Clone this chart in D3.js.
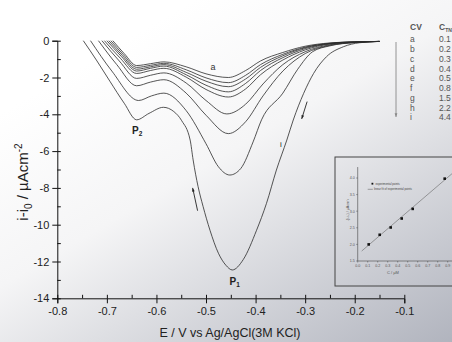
<!DOCTYPE html>
<html>
<head>
<meta charset="utf-8">
<script src="https://cdn.jsdelivr.net/npm/d3@7"></script>
<style>
  html, body { margin: 0; padding: 0; overflow: hidden; background: #fff; }
  svg { display: block; }
  text { font-family: "Liberation Sans", Arial, sans-serif; }
</style>
</head>
<body>
<svg id="chart" width="452" height="342"></svg>
<script>
// CV curves a..i : [E (V), i-i0 (uA/cm2)]
const cvLabels = ['a', 'b', 'c', 'd', 'e', 'f', 'g', 'h', 'i'];
const concLabels = ['0.1', '0.2', '0.3', '0.4', '0.5', '0.8', '1.5', '2.2', '4.4'];

const cvA = [[-0.688,0],[-0.665,-0.7],[-0.64,-1.35],[-0.612,-1.25],[-0.585,-1.15],[-0.54,-1.42],[-0.5,-1.8],[-0.455,-2.0],[-0.42,-1.62],[-0.39,-1.1],[-0.345,-0.64],[-0.3,-0.3],[-0.25,-0.12],[-0.2,-0.06],[-0.15,-0.04]];
const cvB = [[-0.692,0],[-0.667,-0.75],[-0.64,-1.45],[-0.612,-1.34],[-0.585,-1.23],[-0.54,-1.58],[-0.5,-2.02],[-0.455,-2.28],[-0.42,-1.88],[-0.39,-1.3],[-0.345,-0.74],[-0.3,-0.35],[-0.25,-0.14],[-0.2,-0.06],[-0.15,-0.04]];
const cvC = [[-0.696,0],[-0.669,-0.8],[-0.64,-1.55],[-0.612,-1.42],[-0.585,-1.3],[-0.54,-1.72],[-0.5,-2.2],[-0.455,-2.5],[-0.42,-2.08],[-0.39,-1.45],[-0.345,-0.82],[-0.3,-0.38],[-0.25,-0.15],[-0.2,-0.07],[-0.15,-0.04]];
const cvD = [[-0.7,0],[-0.671,-0.85],[-0.64,-1.65],[-0.612,-1.5],[-0.585,-1.38],[-0.54,-1.85],[-0.5,-2.42],[-0.455,-2.78],[-0.42,-2.32],[-0.39,-1.62],[-0.345,-0.92],[-0.3,-0.43],[-0.25,-0.16],[-0.2,-0.07],[-0.15,-0.04]];
const cvE = [[-0.705,0],[-0.673,-0.95],[-0.64,-1.78],[-0.612,-1.62],[-0.585,-1.5],[-0.54,-1.98],[-0.5,-2.65],[-0.455,-3.06],[-0.42,-2.62],[-0.39,-1.85],[-0.345,-1.05],[-0.3,-0.5],[-0.25,-0.18],[-0.2,-0.08],[-0.15,-0.04]];
const cvF = [[-0.71,0],[-0.675,-1.1],[-0.64,-2.05],[-0.612,-1.88],[-0.585,-1.75],[-0.54,-2.3],[-0.5,-3.25],[-0.458,-3.98],[-0.42,-3.45],[-0.385,-2.35],[-0.345,-1.3],[-0.3,-0.6],[-0.25,-0.22],[-0.2,-0.09],[-0.15,-0.04]];
const cvG = [[-0.717,0],[-0.68,-1.3],[-0.64,-2.45],[-0.612,-2.25],[-0.585,-2.12],[-0.54,-2.85],[-0.5,-4.05],[-0.455,-5.05],[-0.42,-4.4],[-0.385,-3.0],[-0.345,-1.65],[-0.3,-0.7],[-0.25,-0.25],[-0.2,-0.1],[-0.15,-0.04]];
const cvH = [[-0.733,0],[-0.69,-1.65],[-0.636,-3.25],[-0.61,-3.0],[-0.585,-2.85],[-0.54,-3.8],[-0.5,-5.6],[-0.475,-6.85],[-0.452,-7.3],[-0.43,-6.95],[-0.405,-5.5],[-0.388,-4.3],[-0.345,-2.85],[-0.315,-1.55],[-0.285,-0.6],[-0.25,-0.28],[-0.2,-0.1],[-0.15,-0.04]];
const cvI = [[-0.7475,0],[-0.72,-1.1],[-0.694,-2.2],[-0.665,-3.4],[-0.64,-4.3],[-0.615,-3.95],[-0.586,-3.62],[-0.565,-3.85],[-0.549,-4.35],[-0.532,-5.4],[-0.526,-6.48],[-0.516,-7.93],[-0.506,-9.0],[-0.492,-10.3],[-0.475,-11.55],[-0.46,-12.2],[-0.447,-12.46],[-0.425,-11.9],[-0.398,-10.3],[-0.378,-8.84],[-0.358,-7.03],[-0.337,-5.4],[-0.324,-4.31],[-0.303,-2.86],[-0.283,-1.78],[-0.257,-0.87],[-0.223,-0.33],[-0.19,-0.11],[-0.15,-0.04]];
const cvCurves = [cvA, cvB, cvC, cvD, cvE, cvF, cvG, cvH, cvI];

const xTicks = [-0.8, -0.7, -0.6, -0.5, -0.4, -0.3, -0.2, -0.1];
const xMinor = [-0.8, -0.75, -0.7, -0.65, -0.6, -0.55, -0.5, -0.45, -0.4, -0.35, -0.3, -0.25, -0.2, -0.15, -0.1];
const yTicks = [0, -2, -4, -6, -8, -10, -12, -14];
const yMinor = [0, -1, -2, -3, -4, -5, -6, -7, -8, -9, -10, -11, -12, -13, -14];

// inset: peak current vs concentration
const insetC = [0.11, 0.22, 0.33, 0.44, 0.55, 0.87];
const insetPeak = [2.0, 2.29, 2.51, 2.78, 3.07, 3.98];
const insetFit = [[0.04, 1.8], [0.943, 4.13]];
const insetXTicks = [0, 0.1, 0.2, 0.3, 0.4, 0.5, 0.6, 0.7, 0.8, 0.9];
const insetYTicks = [1.5, 2.0, 2.5, 3.0, 3.5, 4.0];

const svg = d3.select('#chart');

// faded scan-like background
const grad = svg.append('defs').append('linearGradient')
  .attr('id', 'bg').attr('x1', 0.3).attr('y1', 0.1).attr('x2', 1).attr('y2', 1);
grad.append('stop').attr('offset', 0).attr('stop-color', '#ffffff');
grad.append('stop').attr('offset', 0.35).attr('stop-color', '#f5f5f6');
grad.append('stop').attr('offset', 1).attr('stop-color', '#b1b4be');
svg.append('rect').attr('width', 452).attr('height', 342).attr('fill', 'url(#bg)');

const x = d3.scaleLinear().domain([-0.8, -0.1]).range([57.3, 404.3]);
const y = d3.scaleLinear().domain([0, -14]).range([40.7, 298.3]);

// x axis
const gx = svg.append('g').attr('transform', `translate(0,${y(-14)})`)
  .call(d3.axisBottom(x).tickValues(xTicks).tickSize(5).tickPadding(4)
    .tickFormat(d => d.toFixed(1)));
svg.append('g').attr('transform', `translate(0,${y(-14)})`)
  .call(d3.axisTop(x).tickValues(xMinor).tickSize(3.5).tickFormat(''))
  .select('.domain').remove();

// y axis
const gy = svg.append('g').attr('transform', `translate(${x(-0.8)},0)`)
  .call(d3.axisLeft(y).tickValues(yTicks).tickSize(5).tickPadding(3)
    .tickFormat(d => String(d)));
svg.append('g').attr('transform', `translate(${x(-0.8)},0)`)
  .call(d3.axisRight(y).tickValues(yMinor).tickSize(3.5).tickFormat(''))
  .select('.domain').remove();

svg.selectAll('.domain').attr('stroke', '#111').attr('stroke-width', 1);
svg.selectAll('.tick line').attr('stroke', '#111');
[gx, gy].forEach(g => g.selectAll('text')
  .attr('font-size', 11).attr('fill', '#222')
  .attr('font-family', '"Liberation Sans", Arial, sans-serif'));

// axis titles
svg.append('text').attr('x', 230).attr('y', 336.5).attr('text-anchor', 'middle')
  .attr('font-size', 12.5).attr('fill', '#222').text('E / V vs Ag/AgCl(3M KCl)');

const yt = svg.append('text').attr('transform', 'translate(28,182) rotate(-90)')
  .attr('text-anchor', 'middle').attr('font-size', 15).attr('fill', '#222');
yt.append('tspan').text('i-i');
yt.append('tspan').attr('font-size', 10).attr('dy', 4).text('0');
yt.append('tspan').attr('dy', -4).text(' / µAcm');
yt.append('tspan').attr('font-size', 10).attr('dy', -6).text('-2');

// CV curves
const line = d3.line().x(d => x(d[0])).y(d => y(d[1])).curve(d3.curveMonotoneX);
svg.append('g').selectAll('path').data(cvCurves).join('path')
  .attr('d', line).attr('fill', 'none').attr('stroke', '#2b2b2b').attr('stroke-width', 0.8);

// labels on curves
function subLabel(ex, iy, main, sub) {
  const t = svg.append('text').attr('x', x(ex)).attr('y', y(iy)).attr('text-anchor', 'middle')
    .attr('font-size', 10).attr('font-weight', 'bold').attr('fill', '#222');
  t.append('tspan').text(main);
  t.append('tspan').attr('font-size', 6.5).attr('dy', 2).text(sub);
}
subLabel(-0.639, -5.05, 'P', '2');
subLabel(-0.442, -13.25, 'P', '1');
svg.append('text').attr('x', x(-0.486)).attr('y', y(-1.6)).attr('text-anchor', 'middle')
  .attr('font-size', 9).attr('fill', '#333').text('a');
svg.append('text').attr('x', x(-0.349)).attr('y', y(-5.75)).attr('text-anchor', 'middle')
  .attr('font-size', 8).attr('fill', '#222').text('i');

// scan direction arrows
const arrows = [
  { from: [-0.296, -3.31], to: [-0.307, -4.25] },
  { from: [-0.517, -9.24], to: [-0.527, -8.0] }
];
function arrow(x1, y1, x2, y2, col, w) {
  svg.append('line').attr('x1', x1).attr('y1', y1).attr('x2', x2).attr('y2', y2)
    .attr('stroke', col).attr('stroke-width', w);
  const a = Math.atan2(y2 - y1, x2 - x1), L = 4, s = 0.35;
  const pts = [[x2, y2],
    [x2 - L * Math.cos(a - s), y2 - L * Math.sin(a - s)],
    [x2 - L * Math.cos(a + s), y2 - L * Math.sin(a + s)]];
  svg.append('path').attr('d', 'M' + pts.join('L') + 'Z').attr('fill', col);
}
arrows.forEach(d => arrow(x(d.from[0]), y(d.from[1]), x(d.to[0]), y(d.to[1]), '#222', 0.9));

// legend list (top right)
const lg = svg.append('g').attr('fill', '#555').attr('font-size', 8.5);
lg.append('text').attr('x', 410).attr('y', 30).attr('font-weight', 'bold').text('CV');
const ct = lg.append('text').attr('x', 439).attr('y', 30).attr('font-weight', 'bold');
ct.append('tspan').text('C');
ct.append('tspan').attr('font-size', 5).attr('dy', 2).text('TNT');
ct.append('tspan').attr('dy', -2).text('/');
const rowY = i => 42.3 + i * 9.75;
lg.selectAll('.lbl').data(cvLabels).join('text').attr('class', 'lbl')
  .attr('x', 410).attr('y', (d, i) => rowY(i)).text(d => d);
lg.selectAll('.cv').data(concLabels).join('text').attr('class', 'cv')
  .attr('x', 439).attr('y', (d, i) => rowY(i)).text(d => d);
arrow(396, 42, 396, 117, '#888', 0.9);

// inset
const ins = svg.append('g');
ins.append('rect').attr('x', 335).attr('y', 157).attr('width', 130).attr('height', 129)
  .attr('fill', 'none').attr('stroke', '#444').attr('stroke-width', 1);
const ix = d3.scaleLinear().domain([0, 0.9]).range([357.7, 447.7]);
const iy = d3.scaleLinear().domain([1.5, 4.0]).range([261, 178]);
ins.append('line').attr('x1', ix(0)).attr('x2', ix(0)).attr('y1', iy(4.33)).attr('y2', iy(1.5))
  .attr('stroke', '#444').attr('stroke-width', 0.6);
ins.append('line').attr('x1', ix(0)).attr('x2', 452).attr('y1', iy(1.5)).attr('y2', iy(1.5))
  .attr('stroke', '#444').attr('stroke-width', 0.6);
ins.selectAll('.ixt').data(insetXTicks).join('line').attr('class', 'ixt')
  .attr('x1', d => ix(d)).attr('x2', d => ix(d)).attr('y1', iy(1.5)).attr('y2', iy(1.5) + 1.5)
  .attr('stroke', '#444').attr('stroke-width', 0.5);
ins.selectAll('.ixl').data(insetXTicks).join('text').attr('class', 'ixl')
  .attr('x', d => ix(d)).attr('y', iy(1.5) + 6).attr('text-anchor', 'middle')
  .attr('font-size', 3.6).attr('fill', '#555').text(d => d.toFixed(1));
ins.selectAll('.iyt').data(insetYTicks).join('line').attr('class', 'iyt')
  .attr('x1', ix(0) - 1.5).attr('x2', ix(0)).attr('y1', d => iy(d)).attr('y2', d => iy(d))
  .attr('stroke', '#444').attr('stroke-width', 0.5);
ins.selectAll('.iyl').data(insetYTicks).join('text').attr('class', 'iyl')
  .attr('x', ix(0) - 3).attr('y', d => iy(d) + 1.3).attr('text-anchor', 'end')
  .attr('font-size', 3.6).attr('fill', '#555').text(d => d.toFixed(1));
ins.append('text').attr('x', 393).attr('y', 274).attr('text-anchor', 'middle')
  .attr('font-size', 4).attr('fill', '#555').text('C / µM');
ins.append('text').attr('transform', 'translate(348.5,210) rotate(-90)').attr('text-anchor', 'middle')
  .attr('font-size', 3.6).attr('fill', '#555').text('-(i-i\u2080) / µAcm\u207B\u00B2');

ins.append('path').datum(insetFit)
  .attr('d', d3.line().x(d => ix(d[0])).y(d => iy(d[1])))
  .attr('stroke', '#666').attr('stroke-width', 0.6).attr('fill', 'none');
ins.selectAll('.pt').data(insetC).join('rect').attr('class', 'pt')
  .attr('x', (d, i) => ix(d) - 1.3).attr('y', (d, i) => iy(insetPeak[i]) - 1.3)
  .attr('width', 2.6).attr('height', 2.6).attr('fill', '#111');

ins.append('rect').attr('x', 371.5).attr('y', 182.8).attr('width', 1.8).attr('height', 1.8).attr('fill', '#111');
ins.append('text').attr('x', 375.5).attr('y', 184.8).attr('font-size', 2.8).attr('fill', '#444')
  .text('experimental points');
ins.append('line').attr('x1', 367.7).attr('x2', 372.8).attr('y1', 189.3).attr('y2', 189.3)
  .attr('stroke', '#555').attr('stroke-width', 0.5);
ins.append('text').attr('x', 374).attr('y', 190.3).attr('font-size', 2.8).attr('fill', '#444')
  .text('linear fit of experimental points');
</script>
</body>
</html>
